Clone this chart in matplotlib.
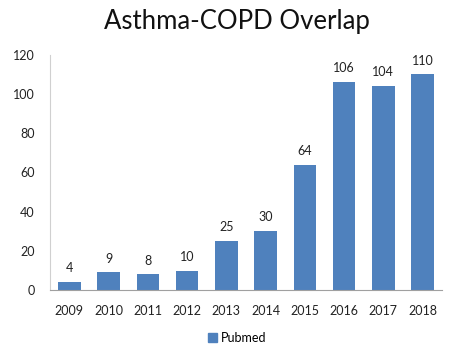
import matplotlib.pyplot as plt
from matplotlib.patches import Patch

years = ["2009", "2010", "2011", "2012", "2013", "2014", "2015", "2016", "2017", "2018"]
pubmed = [4, 9, 8, 10, 25, 30, 64, 106, 104, 110]
y_ticks = [0, 20, 40, 60, 80, 100, 120]

plt.rcParams['font.family'] = ['Lato', 'DejaVu Sans']

fig = plt.figure(figsize=(4.74, 3.56), dpi=100)
ax = fig.add_axes([0.105, 0.185, 0.828, 0.661])

bar_color = "#4F81BD"
x = range(len(years))
bars = ax.bar(x, pubmed, width=0.57, color=bar_color)

for xi, v in zip(x, pubmed):
    ax.text(xi, v + 4, str(v), ha='center', va='bottom', fontsize=9, color='#222222')

ax.set_xlim(-0.5, len(years) - 0.5)
ax.set_ylim(0, 120)
ax.set_yticks(y_ticks)
ax.set_xticks(list(x))
ax.set_xticklabels(years)
ax.tick_params(axis='both', length=0, labelsize=9, colors='#222222')
ax.tick_params(axis='x', pad=11)
ax.tick_params(axis='y', pad=11)

for side in ['top', 'right']:
    ax.spines[side].set_visible(False)
ax.spines['left'].set_color('#d0d0d0')
ax.spines['bottom'].set_color('#a0a0a0')

fig.text(0.5, 0.975, "Asthma-COPD Overlap", ha='center', va='top', fontsize=18.5,
         color='#111111')

handle = Patch(color=bar_color, label='Pubmed')
fig.legend(handles=[handle], loc='center', bbox_to_anchor=(0.5, 0.05), frameon=False,
           fontsize=9, handlelength=0.7, handleheight=0.7, handletextpad=0.3)

fig.savefig("out.png", dpi=100)
